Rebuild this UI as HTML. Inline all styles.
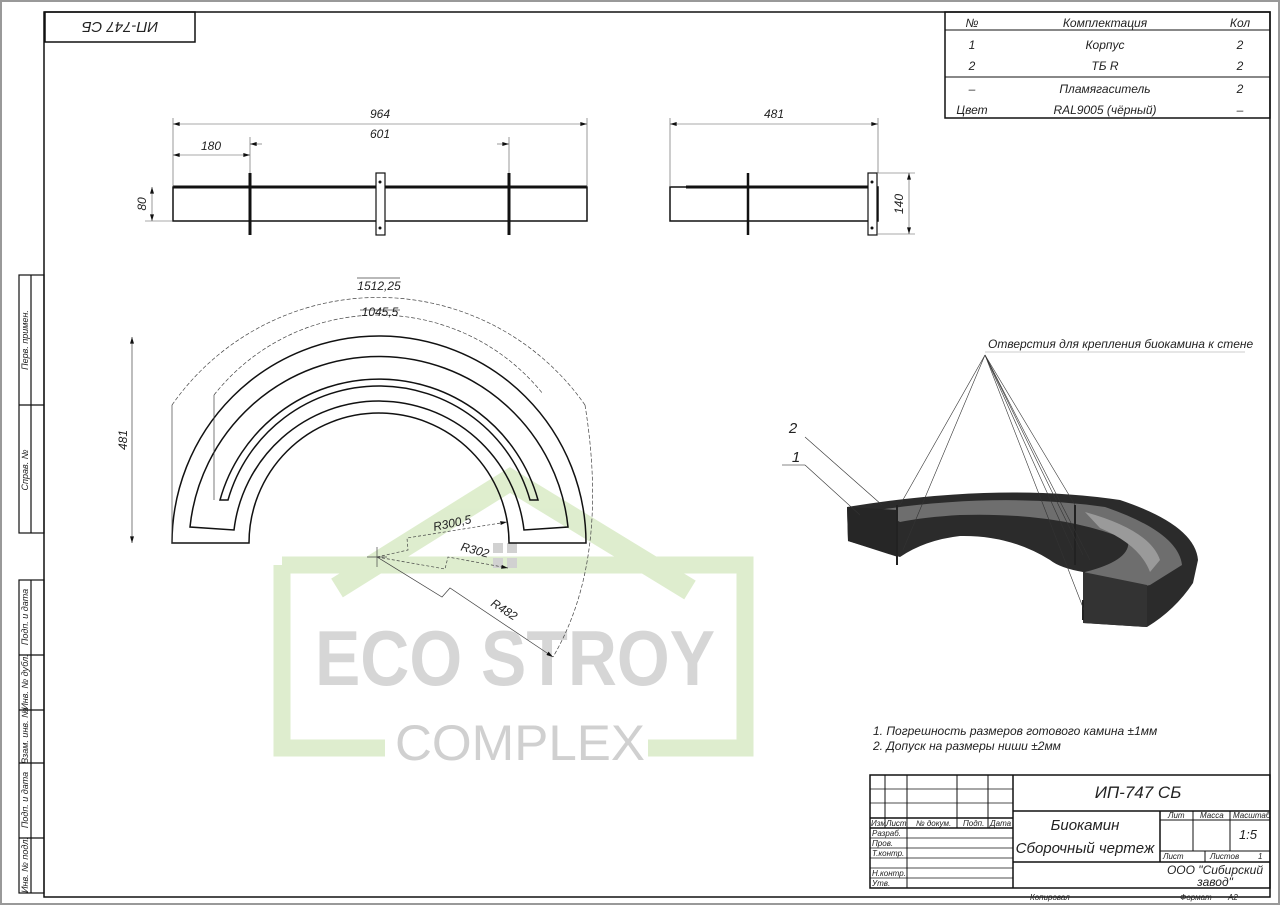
<!DOCTYPE html>
<html><head><meta charset="utf-8"><style>
html,body{margin:0;padding:0;background:#fff}
svg{display:block}
text{font-family:"Liberation Sans","DejaVu Sans",sans-serif;font-style:italic;fill:#222}
</style></head><body>
<svg width="1280" height="905" viewBox="0 0 1280 905" xmlns="http://www.w3.org/2000/svg">
<defs>
<marker id="a" viewBox="0 0 10 6" refX="10" refY="3" markerWidth="10" markerHeight="4" orient="auto-start-reverse" markerUnits="userSpaceOnUse"><path d="M0,0 L10,3 L0,6 Z" fill="#111"/></marker>
</defs>
<rect x="1" y="1" width="1278" height="903" fill="#fff" stroke="#999" stroke-width="2"/>
<!-- watermark -->
<g opacity="0.85">
<path d="M282,565 H745 V748 H648" fill="none" stroke="#d9ebc6" stroke-width="17"/>
<path d="M282,565 V748 H385" fill="none" stroke="#d9ebc6" stroke-width="17"/>
<path d="M337,588 L510,480 L690,590" fill="none" stroke="#d9ebc6" stroke-width="22"/>
<rect x="493" y="543" width="10" height="10" fill="#c9c9c9"/><rect x="507" y="543" width="10" height="10" fill="#c9c9c9"/>
<rect x="493" y="558" width="10" height="10" fill="#c9c9c9"/><rect x="507" y="558" width="10" height="10" fill="#c9c9c9"/>
<text x="515" y="685" text-anchor="middle" style="font-style:normal;font-weight:bold;fill:#cfcfcf;font-size:78px" textLength="400" lengthAdjust="spacingAndGlyphs">ECO STROY</text>
<text x="520" y="760" text-anchor="middle" style="font-style:normal;fill:#c8c8c8;font-size:50px" textLength="250" lengthAdjust="spacingAndGlyphs">COMPLEX</text>
</g>
<!-- frame -->
<rect x="44" y="12" width="1226" height="885" fill="none" stroke="#111" stroke-width="1.5"/>
<rect x="45" y="12" width="150" height="30" fill="none" stroke="#111" stroke-width="1.5"/>
<text x="120" y="27" text-anchor="middle" font-size="15" transform="rotate(180 120 27)" dy="5">ИП-747 СБ</text>
<!-- sidebar -->
<g stroke="#111" stroke-width="1.2" fill="none">
<rect x="19" y="275" width="25" height="258"/><line x1="31" y1="275" x2="31" y2="533"/><line x1="19" y1="405" x2="44" y2="405"/>
<rect x="19" y="580" width="25" height="313"/><line x1="31" y1="580" x2="31" y2="893"/>
<line x1="19" y1="655" x2="44" y2="655"/><line x1="19" y1="710" x2="44" y2="710"/><line x1="19" y1="763" x2="44" y2="763"/><line x1="19" y1="838" x2="44" y2="838"/>
</g>
<g font-size="9">
<text transform="translate(28,340) rotate(-90)" text-anchor="middle">Перв. примен.</text>
<text transform="translate(28,470) rotate(-90)" text-anchor="middle">Справ. №</text>
<text transform="translate(28,617) rotate(-90)" text-anchor="middle">Подп. и дата</text>
<text transform="translate(28,682) rotate(-90)" text-anchor="middle">Инв. № дубл.</text>
<text transform="translate(28,736) rotate(-90)" text-anchor="middle">Взам. инв. №</text>
<text transform="translate(28,800) rotate(-90)" text-anchor="middle">Подп. и дата</text>
<text transform="translate(28,865) rotate(-90)" text-anchor="middle">Инв. № подл.</text>
</g>
<!-- spec table -->
<rect x="945" y="12" width="325" height="106" fill="none" stroke="#111" stroke-width="1.5"/>
<line x1="945" y1="30" x2="1270" y2="30" stroke="#111"/><line x1="945" y1="77" x2="1270" y2="77" stroke="#111"/>
<g font-size="12" text-anchor="middle">
<text x="972" y="27">№</text><text x="1105" y="27">Комплектация</text><text x="1240" y="27">Кол</text>
<text x="972" y="49">1</text><text x="1105" y="49">Корпус</text><text x="1240" y="49">2</text>
<text x="972" y="70">2</text><text x="1105" y="70">ТБ R</text><text x="1240" y="70">2</text>
<text x="972" y="93">–</text><text x="1105" y="93">Пламягаситель</text><text x="1240" y="93">2</text>
<text x="972" y="114">Цвет</text><text x="1105" y="114">RAL9005 (чёрный)</text><text x="1240" y="114">–</text>
</g>
<!-- front view left -->
<g stroke="#111" fill="none">
<rect x="173" y="187" width="414" height="34" stroke-width="1.5"/>
<line x1="173" y1="187" x2="587" y2="187" stroke-width="3"/>
<line x1="250" y1="173" x2="250" y2="235" stroke-width="3"/>
<line x1="509" y1="173" x2="509" y2="235" stroke-width="3"/>
<rect x="376" y="173" width="9" height="62" fill="#fff" stroke-width="1.2"/>
<g stroke-width="0.6" stroke="#555">
<line x1="173" y1="118" x2="173" y2="187"/><line x1="587" y1="118" x2="587" y2="187"/>
<line x1="173" y1="124" x2="587" y2="124" marker-start="url(#a)" marker-end="url(#a)"/>
<line x1="250" y1="137" x2="250" y2="173"/><line x1="509" y1="137" x2="509" y2="173"/>
<line x1="173" y1="155" x2="250" y2="155" marker-start="url(#a)" marker-end="url(#a)"/>
<line x1="262" y1="144" x2="250" y2="144" marker-end="url(#a)"/><line x1="497" y1="144" x2="509" y2="144" marker-end="url(#a)"/>
<line x1="152" y1="187" x2="152" y2="221" marker-start="url(#a)" marker-end="url(#a)"/><line x1="145" y1="221" x2="173" y2="221"/>
</g>
</g>
<circle cx="380" cy="182" r="1.5" fill="#111"/><circle cx="380" cy="228" r="1.5" fill="#111"/>
<g font-size="12" text-anchor="middle">
<text x="380" y="118">964</text><text x="380" y="138">601</text><text x="211" y="150">180</text>
<text transform="translate(146,204) rotate(-90)">80</text>
</g>
<!-- side view -->
<g stroke="#111" fill="none">
<rect x="670" y="187" width="208" height="34" stroke-width="1.5"/>
<line x1="686" y1="187" x2="868" y2="187" stroke-width="3"/>
<line x1="748" y1="173" x2="748" y2="235" stroke-width="2.5"/>
<rect x="868" y="173" width="9" height="62" fill="#fff" stroke-width="1.2"/>
<g stroke-width="0.6" stroke="#555">
<line x1="670" y1="118" x2="670" y2="187"/><line x1="878" y1="118" x2="878" y2="173"/>
<line x1="670" y1="124" x2="878" y2="124" marker-start="url(#a)" marker-end="url(#a)"/>
<line x1="878" y1="173" x2="915" y2="173"/><line x1="878" y1="234" x2="915" y2="234"/>
<line x1="909" y1="173" x2="909" y2="234" marker-start="url(#a)" marker-end="url(#a)"/>
</g>
</g>
<circle cx="872" cy="182" r="1.5" fill="#111"/><circle cx="872" cy="228" r="1.5" fill="#111"/>
<text x="774" y="118" font-size="12" text-anchor="middle">481</text>
<text transform="translate(903,204) rotate(-90)" font-size="12" text-anchor="middle">140</text>
<!-- arc plan -->
<g stroke="#111" stroke-width="1.5" fill="none">
<path d="M172,543 A207,207 0 0 1 586,543 L509,543 A130,130 0 0 0 249,543 Z"/>
<path d="M190,527 A190,190 0 0 1 568,527 L524,530 A146,146 0 0 0 234,530 Z"/>
<path d="M220,500 A165,165 0 0 1 538,500 L530,500 A157,157 0 0 0 228,500 Z"/>
</g>
<g stroke="#444" stroke-width="0.7" fill="none">
<path d="M172,405 A252,252 0 0 1 585,405" stroke-dasharray="4,2"/>
<path d="M585,405 Q610,560 553,657" stroke-dasharray="4,2"/>
<path d="M214,395 A210,210 0 0 1 543,394" stroke-dasharray="4,2"/>
<line x1="214" y1="395" x2="214" y2="500"/>
<line x1="172" y1="405" x2="172" y2="543"/>
<line x1="132" y1="337" x2="132" y2="543" marker-start="url(#a)" marker-end="url(#a)"/>
<line x1="357" y1="278" x2="400" y2="278"/><line x1="360" y1="310" x2="400" y2="310"/>
<line x1="367" y1="557" x2="387" y2="557"/><line x1="377" y1="547" x2="377" y2="567"/>
<path d="M377,557 L408,550 L407,538 L507,522" stroke-dasharray="3,2" marker-end="url(#a)"/>
<path d="M377,557 L445,569 L448,557 L508,568" stroke-dasharray="3,2" marker-end="url(#a)"/>
<path d="M377,557 L442,597 L450,588 L553,657" marker-end="url(#a)"/>
</g>
<g font-size="12" text-anchor="middle">
<text x="379" y="290">1512,25</text><text x="380" y="316">1045,5</text>
<text transform="translate(127,440) rotate(-90)">481</text>
<text transform="translate(453,527) rotate(-12)">R300,5</text>
<text transform="translate(474,554) rotate(15)">R302</text>
<text transform="translate(502,613) rotate(33)">R482</text>
</g>
<!-- iso render -->
<path d="M847,507 Q1000,482 1120,500 Q1195,525 1198,560 L1193,583 Q1175,610 1147,627 L1083,623 L1083,572 Q1060,568 1050,560 Q1010,535 960,536 Q925,540 900,557 L848,541 Z" fill="#2b2b2b"/>
<path d="M878,510 Q1000,492 1105,507 Q1178,532 1182,565 L1150,585 Q1120,592 1090,588 L1085,572 Q1132,560 1128,540 Q1060,512 960,515 Q925,517 900,522 Z" fill="#6e6e6e"/>
<path d="M1085,512 Q1150,530 1160,560 L1150,572 Q1140,545 1100,528 Z" fill="#9a9a9a"/>
<path d="M1083,572 L1147,585 L1147,627 L1083,623 Z" fill="#333"/>
<path d="M847,507 L898,510 L898,557 L848,541 Z" fill="#262626"/>
<g stroke="#222" stroke-width="2"><line x1="897" y1="505" x2="897" y2="565"/><line x1="1075" y1="505" x2="1075" y2="565"/><line x1="1083" y1="600" x2="1083" y2="620"/></g>
<g stroke="#333" stroke-width="0.6" fill="none">
<line x1="985" y1="355" x2="900" y2="505"/><line x1="985" y1="355" x2="903" y2="550"/>
<line x1="985" y1="355" x2="1075" y2="505"/><line x1="985" y1="355" x2="1073" y2="550"/>
<line x1="985" y1="355" x2="1083" y2="555"/><line x1="985" y1="355" x2="1084" y2="610"/>
<line x1="985" y1="355" x2="1090" y2="560"/>
<line x1="985" y1="352" x2="1245" y2="352" stroke="#999"/>
<line x1="805" y1="437" x2="882" y2="505"/><line x1="782" y1="465" x2="805" y2="465" stroke="#111"/><line x1="805" y1="465" x2="860" y2="515"/>
</g>
<text x="988" y="348" font-size="12">Отверстия для крепления биокамина к стене</text>
<text x="793" y="433" font-size="15" text-anchor="middle">2</text>
<text x="796" y="462" font-size="15" text-anchor="middle">1</text>
<text x="873" y="735" font-size="12">1. Погрешность размеров готового камина ±1мм</text>
<text x="873" y="750" font-size="12">2. Допуск на размеры ниши ±2мм</text>
<!-- title block -->
<g stroke="#111" fill="none" stroke-width="1.5">
<rect x="870" y="775" width="400" height="113"/>
<line x1="1013" y1="775" x2="1013" y2="888"/>
<line x1="1013" y1="811" x2="1270" y2="811"/>
<line x1="1013" y1="862" x2="1270" y2="862"/>
<line x1="1160" y1="811" x2="1160" y2="862"/>
<line x1="1160" y1="820" x2="1270" y2="820" stroke-width="1"/>
<line x1="1160" y1="851" x2="1270" y2="851" stroke-width="1"/>
<line x1="1193" y1="811" x2="1193" y2="851" stroke-width="1"/>
<line x1="1230" y1="811" x2="1230" y2="851" stroke-width="1"/>
<line x1="1205" y1="851" x2="1205" y2="862" stroke-width="1"/>
<line x1="885" y1="775" x2="885" y2="828" stroke-width="1"/>
<line x1="907" y1="775" x2="907" y2="888" stroke-width="1"/>
<line x1="957" y1="775" x2="957" y2="828" stroke-width="1"/>
<line x1="988" y1="775" x2="988" y2="828" stroke-width="1"/>
<line x1="870" y1="818" x2="1013" y2="818"/>
<line x1="870" y1="828" x2="1013" y2="828"/>
<g stroke-width="0.7"><line x1="870" y1="789" x2="1013" y2="789"/><line x1="870" y1="803" x2="1013" y2="803"/>
<line x1="870" y1="838" x2="1013" y2="838"/><line x1="870" y1="848" x2="1013" y2="848"/><line x1="870" y1="858" x2="1013" y2="858"/><line x1="870" y1="868" x2="1013" y2="868"/><line x1="870" y1="878" x2="1013" y2="878"/></g>
</g>
<g font-size="8">
<text x="871" y="826">Изм</text><text x="886" y="826">Лист</text><text x="916" y="826">№ докум.</text><text x="963" y="826">Подп.</text><text x="990" y="826">Дата</text>
<text x="872" y="836">Разраб.</text><text x="872" y="846">Пров.</text><text x="872" y="856">Т.контр.</text><text x="872" y="876">Н.контр.</text><text x="872" y="886">Утв.</text>
<text x="1168" y="818">Лит</text><text x="1200" y="818">Масса</text><text x="1233" y="818">Масштаб</text>
<text x="1163" y="859">Лист</text><text x="1210" y="859">Листов</text><text x="1258" y="859">1</text>
<text x="1030" y="900">Копировал</text><text x="1180" y="900">Формат</text><text x="1228" y="900">А2</text>
</g>
<text x="1138" y="798" font-size="17" text-anchor="middle">ИП-747 СБ</text>
<text x="1085" y="830" font-size="15" text-anchor="middle">Биокамин</text>
<text x="1085" y="853" font-size="15" text-anchor="middle">Сборочный чертеж</text>
<text x="1248" y="839" font-size="13" text-anchor="middle">1:5</text>
<text x="1215" y="874" font-size="12" text-anchor="middle">ООО "Сибирский</text>
<text x="1215" y="886" font-size="12" text-anchor="middle">завод"</text>
</svg>
</body></html>
